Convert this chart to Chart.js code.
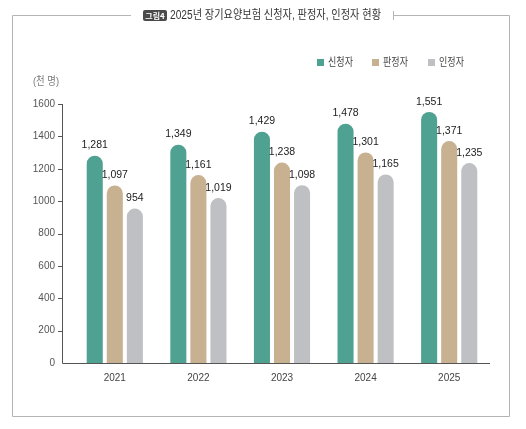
<!DOCTYPE html>
<html>
<head>
<meta charset="utf-8">
<script src="https://cdn.jsdelivr.net/npm/chart.js@4.4.1/dist/chart.umd.min.js"></script>
<style>
  html, body { margin: 0; padding: 0; background: #fff; }
  #chart { display: block; }
</style>
</head>
<body>
<canvas id="chart" width="526" height="429"></canvas>
<script>
/* ===== DATOS ===== */
const years = ['2021', '2022', '2023', '2024', '2025'];
const applicants = [1281, 1349, 1429, 1478, 1551];   // 신청자
const assessed = [1097, 1161, 1238, 1301, 1371];     // 판정자
const approved = [954, 1019, 1098, 1165, 1235];      // 인정자
const seriesNames = ['신청자', '판정자', '인정자'];
const seriesColors = ['#4fa291', '#c8b191', '#bfc0c4'];
const yMax = 1600;
const yStep = 200;
const unitLabel = '(천 명)';
const badgeText = '그림4';
const titleText = '2025년 장기요양보험 신청자, 판정자, 인정자 현황';

const FONT = "'Liberation Sans', 'Noto Sans CJK KR', sans-serif";
Chart.defaults.font.family = FONT;

// marco, título, leyenda y ejes dibujados a mano
const decorPlugin = {
    id: 'decor',
    afterDraw(chart) {
        const ctx = chart.ctx;
        const area = chart.chartArea;
        const yScale = chart.scales.y;
        ctx.save();

        // marco
        ctx.strokeStyle = '#b4b4b4';
        ctx.lineWidth = 1;
        ctx.beginPath();
        ctx.moveTo(131, 15.5); ctx.lineTo(12.5, 15.5); ctx.lineTo(12.5, 416.5);
        ctx.lineTo(509.5, 416.5); ctx.lineTo(509.5, 15.5); ctx.lineTo(393.5, 15.5);
        ctx.moveTo(393.5, 11); ctx.lineTo(393.5, 20);
        ctx.stroke();

        // título
        ctx.fillStyle = '#4a4a4a';
        ctx.beginPath();
        ctx.roundRect(143, 10, 24, 11, 2);
        ctx.fill();
        ctx.fillStyle = '#fff';
        ctx.font = "bold 8px 'Noto Sans CJK KR', sans-serif";
        ctx.textAlign = 'center';
        ctx.textBaseline = 'middle';
        ctx.fillText(badgeText, 155, 15.5, 21);
        ctx.fillStyle = '#333';
        ctx.font = "12px " + FONT;
        ctx.textAlign = 'left';
        ctx.fillText(titleText, 170, 15.5, 211);

        // leyenda
        const legendX = [317, 372, 428];
        ctx.font = "11px " + FONT;
        seriesNames.forEach((name, i) => {
            ctx.fillStyle = seriesColors[i];
            ctx.fillRect(legendX[i], 59, 7, 7);
            ctx.fillStyle = '#444';
            ctx.fillText(name, legendX[i] + 11, 63, 25);
        });

        // unidad
        ctx.fillStyle = '#777';
        ctx.font = "11px " + FONT;
        ctx.fillText(unitLabel, 33, 82, 26);

        // ejes
        const axisX = 62.5;
        ctx.strokeStyle = '#555';
        ctx.beginPath();
        ctx.moveTo(axisX, yScale.getPixelForValue(yMax));
        ctx.lineTo(axisX, Math.round(area.bottom) + 0.5);
        ctx.lineTo(490, Math.round(area.bottom) + 0.5);
        for (let v = yStep; v <= yMax; v += yStep) {
            const py = Math.round(yScale.getPixelForValue(v)) + 0.5;
            ctx.moveTo(58, py);
            ctx.lineTo(axisX, py);
        }
        ctx.stroke();
        ctx.restore();
    },
    afterDatasetsDraw(chart) {
        const ctx = chart.ctx;
        ctx.save();
        ctx.fillStyle = '#222';
        ctx.font = "10.5px " + FONT;
        ctx.textAlign = 'center';
        ctx.textBaseline = 'bottom';
        chart.data.datasets.forEach((ds, i) => {
            chart.getDatasetMeta(i).data.forEach((bar, j) => {
                ctx.fillText(ds.data[j].toLocaleString('en-US'), bar.x, bar.y - 5);
            });
        });
        ctx.restore();
    }
};

const series = [applicants, assessed, approved];

new Chart(document.getElementById('chart'), {
    type: 'bar',
    data: {
        labels: years,
        datasets: series.map((values, i) => ({
            label: seriesNames[i],
            data: values,
            backgroundColor: seriesColors[i],
            borderRadius: 8,
            borderSkipped: 'start',
            barPercentage: 0.8,
            categoryPercentage: 0.72
        }))
    },
    options: {
        responsive: false,
        animation: false,
        devicePixelRatio: 1,
        layout: {
            padding: { left: 0, top: 104, right: 35, bottom: 46 }
        },
        plugins: {
            legend: { display: false },
            title: { display: false },
            tooltip: { enabled: false }
        },
        scales: {
            x: {
                grid: { display: false, drawTicks: false },
                border: { display: false },
                ticks: {
                    font: { size: 10 },
                    color: '#444',
                    padding: 9
                },
                afterFit: function(scale) { scale.height = 20; }
            },
            y: {
                min: 0,
                max: yMax,
                grid: { display: false, drawTicks: false },
                border: { display: false },
                ticks: {
                    stepSize: yStep,
                    font: { size: 10 },
                    color: '#555',
                    padding: 18,
                    callback: function(value) { return String(value); }
                },
                afterFit: function(scale) { scale.width = 73; }
            }
        }
    },
    plugins: [decorPlugin]
});
</script>
</body>
</html>
